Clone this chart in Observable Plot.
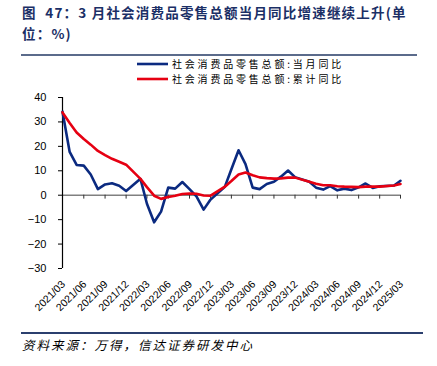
<!DOCTYPE html>
<html><head><meta charset="utf-8">
<script src="https://cdn.jsdelivr.net/npm/d3@7"></script>
<script src="https://cdn.jsdelivr.net/npm/@observablehq/plot@0.6"></script>
<style>
html,body{margin:0;padding:0;background:#fff}
body{width:437px;height:366px;position:relative;overflow:hidden}
#title{position:absolute;left:22px;top:2px;white-space:nowrap;font-family:"Noto Sans CJK SC",sans-serif;font-weight:bold;font-size:13.5px;letter-spacing:1.2px;line-height:21px;color:#1b2f66}
#toprule{position:absolute;left:21px;top:54px;width:396px;height:2px;background:#5b6b8b}
#botrule{position:absolute;left:21px;top:332px;width:402px;height:2px;background:#2b3f6e}
#caption{position:absolute;left:22px;top:336px;white-space:nowrap;font-family:"Noto Sans CJK SC",sans-serif;font-style:italic;font-size:12.5px;letter-spacing:2px;line-height:18px;color:#000}
#legend{position:absolute;left:137px;top:57px;font-family:"Noto Sans CJK SC",sans-serif;font-size:10px;letter-spacing:2.8px;color:#000}
.row{display:flex;align-items:center;height:14.5px;line-height:14.5px}
.row svg{margin-right:4px}
#chart{position:absolute;left:0;top:0}
</style></head>
<body>
<div id="chart"></div>
<div id="title"></div>
<div id="toprule"></div>
<div id="legend"></div>
<div id="botrule"></div>
<div id="caption"></div>
<script>
// ---- data ----
const months = [
  "2021-03","2021-04","2021-05","2021-06","2021-07","2021-08","2021-09","2021-10","2021-11","2021-12",
  "2022-02","2022-03","2022-04","2022-05","2022-06","2022-07","2022-08","2022-09","2022-10","2022-11","2022-12",
  "2023-02","2023-03","2023-04","2023-05","2023-06","2023-07","2023-08","2023-09","2023-10","2023-11","2023-12",
  "2024-02","2024-03","2024-04","2024-05","2024-06","2024-07","2024-08","2024-09","2024-10","2024-11","2024-12",
  "2025-02","2025-03"
];
const monthlyYoY = [
  34.2,17.7,12.4,12.1,8.5,2.5,4.4,4.9,3.9,1.7,
  6.7,-3.5,-11.1,-6.7,3.1,2.7,5.4,2.5,-0.5,-5.9,-1.8,
  3.5,10.6,18.4,12.7,3.1,2.5,4.6,5.5,7.6,10.1,7.4,
  5.5,3.1,2.3,3.7,2.0,2.7,2.1,3.2,4.8,3.0,3.7,
  4.0,5.9
];
const cumulativeYoY = [
  33.9,29.6,25.7,23.0,20.7,18.1,16.4,14.9,13.7,12.5,
  6.7,3.3,-0.2,-1.5,-0.7,-0.2,0.5,0.7,0.6,-0.1,-0.2,
  3.5,5.8,8.5,9.3,8.2,7.3,7.0,6.8,6.9,7.2,7.2,
  5.5,4.7,4.1,4.1,3.7,3.5,3.4,3.3,3.5,3.5,3.5,
  4.0,4.6
];
const tickLabels = ["2021/03","2021/06","2021/09","2021/12","2022/03","2022/06","2022/09","2022/12",
  "2023/03","2023/06","2023/09","2023/12","2024/03","2024/06","2024/09","2024/12","2025/03"];
const yTicks = [-30,-20,-10,0,10,20,30,40];
const seriesNames = ["社会消费品零售总额:当月同比","社会消费品零售总额:累计同比"];
const seriesColors = ["#0b2a80","#e60012"];
const titleLines = ["图\u00a0\u00a047：3 月社会消费品零售总额当月同比增速继续上升(单","位：%)"];
const captionText = "资料来源：万得，信达证券研发中心";

// ---- build ----
const parseM = d3.utcParse("%Y-%m");
const parseT = d3.utcParse("%Y/%m");
const data = months.map((m,i)=>({date:parseM(m), monthly:monthlyYoY[i], cum:cumulativeYoY[i]}));
const ticks = tickLabels.map(s => ({date: parseT(s), label: s}));

const chart = Plot.plot({
  width: 437, height: 366,
  marginLeft: 62, marginRight: 37, marginTop: 97, marginBottom: 98,
  x: {type: "utc", domain: [ticks[0].date, ticks[ticks.length-1].date], axis: null},
  y: {domain: [yTicks[0], yTicks[yTicks.length-1]]},
  style: {fontFamily: "'Liberation Sans', Arial, sans-serif", fontSize: "11px", color: "#000", background: "transparent", overflow: "visible"},
  marks: [
    Plot.ruleY([0], {stroke: "#808080", strokeWidth: 1.6}),
    Plot.ruleX(ticks, {x: "date", y1: 0, y2: -1.6, stroke: "#333", strokeWidth: 1}),
    Plot.ruleX([ticks[0]], {x: "date", y1: yTicks[0], y2: yTicks[yTicks.length-1], stroke: "#000", strokeWidth: 1.2}),
    Plot.axisY({ticks: yTicks, tickSize: 4, tickPadding: 12, label: null, fontSize: 11, stroke: "#000"}),
    Plot.text(ticks, {x: "date", y: yTicks[0], text: "label", rotate: -45, textAnchor: "end", dy: 14, dx: 1, fontSize: 10.5, fill: "#000"}),
    Plot.line(data, {x: "date", y: "monthly", stroke: seriesColors[0], strokeWidth: 2.6, curve: "linear"}),
    Plot.line(data, {x: "date", y: "cum", stroke: seriesColors[1], strokeWidth: 2.6, curve: "linear"})
  ]
});
document.getElementById("chart").appendChild(chart);

const t = document.getElementById("title");
titleLines.forEach((s,i)=>{ if(i) t.appendChild(document.createElement("br")); t.appendChild(document.createTextNode(s)); });
document.getElementById("caption").textContent = captionText;

const lg = document.getElementById("legend");
seriesNames.forEach((n,i)=>{
  const row = document.createElement("div"); row.className = "row";
  row.innerHTML = `<svg width="31" height="4"><line x1="0" y1="2" x2="31" y2="2" stroke="${seriesColors[i]}" stroke-width="2.6"/></svg><span>${n}</span>`;
  lg.appendChild(row);
});
</script>
</body></html>
